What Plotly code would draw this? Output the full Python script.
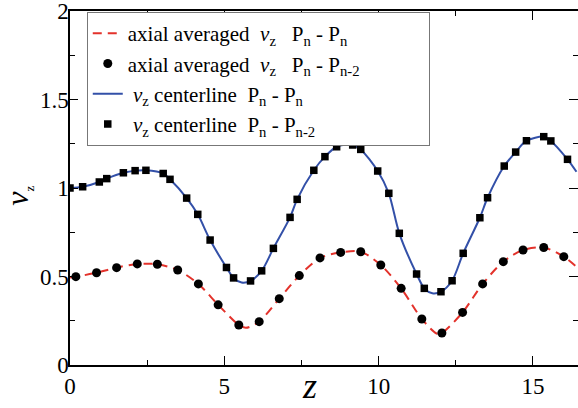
import plotly.graph_objects as go

# ---- data ----
sq_x = [0.0, 0.41, 0.95, 1.19, 1.73, 2.11, 2.46, 3.02, 3.24, 3.78, 4.14, 4.54, 5.07, 5.30,
        5.85, 6.21, 6.59, 7.13, 7.36, 7.90, 8.26, 8.64, 9.16, 9.42, 9.97, 10.33, 10.67,
        11.23, 11.48, 12.02, 12.38, 12.74, 13.28, 13.53, 14.07, 14.44, 14.79, 15.35, 15.58, 16.12]
sq_y = [1.0, 1.007, 1.034, 1.053, 1.086, 1.098, 1.10, 1.082, 1.049, 0.943, 0.851, 0.706, 0.551,
        0.492, 0.475, 0.532, 0.659, 0.834, 0.936, 1.10, 1.177, 1.233, 1.243, 1.218, 1.096, 0.97,
        0.744, 0.514, 0.433, 0.414, 0.476, 0.631, 0.832, 0.945, 1.124, 1.203, 1.267, 1.29, 1.266, 1.162]

ci_x = [0.19, 0.86, 1.51, 2.18, 2.83, 3.49, 4.16, 4.80, 5.47, 6.13, 6.78, 7.43, 8.10, 8.77,
        9.42, 10.07, 10.73, 11.40, 12.05, 12.72, 13.37, 14.04, 14.68, 15.35, 16.0]
ci_y = [0.499, 0.521, 0.55, 0.571, 0.569, 0.537, 0.458, 0.34, 0.226, 0.245, 0.375, 0.505, 0.605,
        0.636, 0.64, 0.565, 0.433, 0.26, 0.181, 0.297, 0.458, 0.584, 0.65, 0.664, 0.612]

blue_x = [0.0, 0.41, 0.95, 1.19, 1.73, 2.11, 2.46, 3.02, 3.24, 3.78, 4.14, 4.54, 5.07, 5.30, 5.56,
          5.85, 6.21, 6.59, 7.13, 7.36, 7.90, 8.26, 8.64, 9.0, 9.16, 9.42, 9.97, 10.33, 10.67,
          11.23, 11.48, 11.74, 12.02, 12.38, 12.74, 13.28, 13.53, 14.07, 14.44, 14.79, 15.35,
          15.58, 16.12, 16.41]
blue_y = [1.0, 1.007, 1.034, 1.053, 1.086, 1.098, 1.10, 1.082, 1.049, 0.943, 0.851, 0.706, 0.551,
          0.492, 0.466, 0.475, 0.532, 0.659, 0.834, 0.936, 1.10, 1.177, 1.233, 1.246, 1.243, 1.218,
          1.096, 0.97, 0.744, 0.514, 0.433, 0.405, 0.414, 0.476, 0.631, 0.832, 0.945, 1.124,
          1.203, 1.267, 1.29, 1.266, 1.162, 1.092]

red_x = [0.0, 0.19, 0.86, 1.51, 2.18, 2.83, 3.49, 4.16, 4.80, 5.47, 5.70, 6.13, 6.78, 7.43, 8.10,
         8.77, 9.42, 10.07, 10.73, 11.40, 11.88, 12.05, 12.72, 13.37, 14.04, 14.68, 15.35, 16.0, 16.41]
red_y = [0.495, 0.499, 0.521, 0.55, 0.571, 0.569, 0.537, 0.458, 0.34, 0.226, 0.21, 0.245, 0.375,
         0.505, 0.605, 0.636, 0.64, 0.565, 0.433, 0.26, 0.178, 0.181, 0.297, 0.458, 0.584, 0.65,
         0.664, 0.612, 0.555]

x_range = [0, 16.46]
y_range = [0, 2.0]

SERIF = "Liberation Serif"
NB = "\u00a0"
v_z = "<i>v</i><sub>z</sub>"
PAD = '<span style="color:rgba(0,0,0,0)">______</span>'
names = [
    f"axial averaged{NB*2}{v_z}{NB*3}P<sub>n</sub> - P<sub>n</sub>",
    f"axial averaged{NB*2}{v_z}{NB*3}P<sub>n</sub> - P<sub>n-2</sub>{PAD}",
    f"{NB}{v_z} centerline{NB*2}P<sub>n</sub> - P<sub>n</sub>",
    f"{NB}{v_z} centerline{NB*2}P<sub>n</sub> - P<sub>n-2</sub>",
]

RED = "#e3322b"
BLUE = "#3350a8"

fig = go.Figure()
fig.add_trace(go.Scatter(x=red_x, y=red_y, mode="lines", name=names[0],
                         line=dict(color=RED, width=2, dash="9px,6px", shape="spline", smoothing=0.8)))
fig.add_trace(go.Scatter(x=ci_x, y=ci_y, mode="markers", name=names[1],
                         marker=dict(symbol="circle", size=9, color="black")))
fig.add_trace(go.Scatter(x=blue_x, y=blue_y, mode="lines", name=names[2],
                         line=dict(color=BLUE, width=2, shape="spline", smoothing=0.8)))
fig.add_trace(go.Scatter(x=sq_x, y=sq_y, mode="markers", name=names[3],
                         marker=dict(symbol="square", size=7.5, color="black")))
fig.add_trace(go.Scatter(x=[None], y=[None], yaxis="y2", showlegend=False, hoverinfo="skip"))

axis_common = dict(ticks="inside", tickcolor="black", tickwidth=1.3, showgrid=False,
                   zeroline=False, ticklabeloverflow="allow",
                   tickfont=dict(family=SERIF, size=23, color="black"))

fig.update_layout(
    width=578, height=408,
    margin=dict(l=70, r=0, t=11, b=43),
    paper_bgcolor="white", plot_bgcolor="white",
    font=dict(family=SERIF, color="black"),
    xaxis=dict(range=x_range, dtick=5, tick0=0, ticklen=9, showline=True, linecolor="black",
               linewidth=1.5, mirror="ticks",
               minor=dict(ticks="inside", dtick=2.5, ticklen=5, tickcolor="black", tickwidth=1.3),
               **axis_common),
    yaxis=dict(range=y_range, dtick=0.5, tick0=0, ticklen=8, showline=True, linecolor="black",
               linewidth=1.5, mirror=False, ticklabelstandoff=-5,
               minor=dict(ticks="inside", dtick=0.25, ticklen=5, tickcolor="black", tickwidth=1.3),
               **axis_common),
    yaxis2=dict(range=y_range, overlaying="y", side="right", dtick=0.5, tick0=0, ticklen=9,
                showticklabels=False, showline=False, ticks="inside", tickcolor="black",
                tickwidth=1.3, showgrid=False, zeroline=False,
                minor=dict(ticks="inside", dtick=0.25, ticklen=5, tickcolor="black", tickwidth=1.3)),
    legend=dict(x=0.033, y=0.997, xanchor="left", yanchor="top",
                bgcolor="white", bordercolor="#777777", borderwidth=1,
                font=dict(family=SERIF, size=21, color="black"),
                itemwidth=30, tracegroupgap=0),
    showlegend=True,
)

# axis titles
fig.add_annotation(text="<i>z</i>", xref="paper", yref="paper", x=0.472, y=-0.1215,
                   xanchor="center", yanchor="bottom", showarrow=False,
                   font=dict(family=SERIF, size=36, color="black"))
fig.add_annotation(text='<i>v</i><sub><span style="font-size:13px">z</span></sub>',
                   xref="paper", yref="paper", x=-0.103, y=0.477, textangle=-90,
                   xanchor="center", yanchor="middle", showarrow=False,
                   font=dict(family=SERIF, size=32, color="black"))

fig.write_html("out.html")
